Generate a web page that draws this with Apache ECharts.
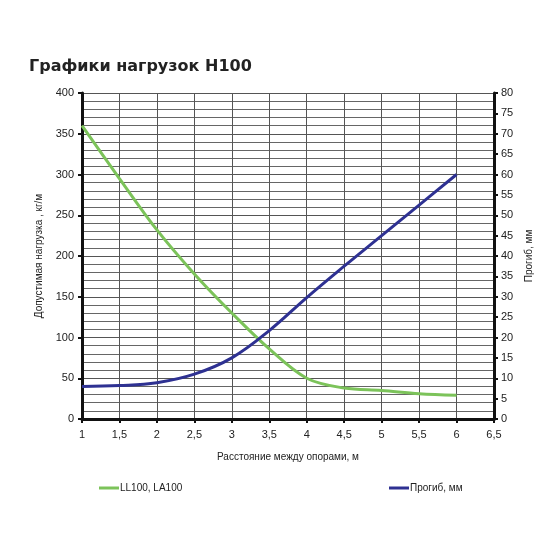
<!DOCTYPE html>
<html lang="ru">
<head>
    <meta charset="UTF-8">
    <title>Графики нагрузок H100</title>
    <script src="https://cdn.jsdelivr.net/npm/echarts@6/dist/echarts.min.js"></script>
    <style>
        * { margin: 0; padding: 0; box-sizing: border-box; }
        body { background: #fff; }
        #chart { width: 550px; height: 550px; }
    </style>
</head>
<body>
    <div id="chart"></div>
    <script>
        // данные
        const spans = [1, 1.5, 2, 2.5, 3, 3.5, 4, 4.5, 5, 5.5, 6];
        const loadLL100 = [360, 295, 232, 178, 130, 86, 50, 38, 35, 31, 29];
        const deflection = [8, 8.2, 8.9, 11, 15, 21.7, 29.8, 37.5, 45, 52.5, 60];

        const pairs = (ys) => spans.map((x, i) => [x, ys[i]]);
        const comma = (v) => String(v).replace('.', ',');

        const labelStyle = { color: '#222', fontSize: 11, fontFamily: 'Liberation Sans' };
        const thickAxis = { show: true, lineStyle: { color: '#111', width: 3 } };
        const ticks = { show: true, length: 4, lineStyle: { color: '#111', width: 2 } };

        const chart = echarts.init(document.getElementById('chart'));
        chart.setOption({
            animation: false,
            title: {
                text: 'Графики нагрузок H100',
                left: 24, top: 54,
                textStyle: { fontFamily: 'DejaVu Sans', fontWeight: 'bold', fontSize: 16, color: '#222' }
            },
            legend: [{
                data: ['LL100, LA100'],
                left: 94, top: 478,
                icon: 'rect', itemWidth: 20, itemHeight: 3,
                textStyle: { color: '#222', fontSize: 10, fontFamily: 'Liberation Sans', padding: [0, 0, 0, -4] }
            }, {
                data: ['Прогиб, мм'],
                left: 384, top: 478,
                icon: 'rect', itemWidth: 20, itemHeight: 3,
                textStyle: { color: '#222', fontSize: 10, fontFamily: 'Liberation Sans', padding: [0, 0, 0, -4] }
            }],
            grid: { left: 82, right: 56, top: 93, bottom: 131 },
            xAxis: {
                type: 'value', min: 1, max: 6.5, interval: 0.5,
                name: 'Расстояние между опорами, м',
                nameLocation: 'middle', nameGap: 33,
                nameTextStyle: { color: '#222', fontSize: 10, fontFamily: 'Liberation Sans' },
                axisLine: thickAxis, axisTick: ticks,
                axisLabel: Object.assign({ margin: 10, formatter: comma }, labelStyle),
                splitLine: { show: true, lineStyle: { color: '#555', width: 1 } }
            },
            yAxis: [{
                type: 'value', min: 0, max: 400, interval: 50,
                name: 'Допустимая нагрузка , кг/м',
                nameLocation: 'middle', nameGap: 36, nameRotate: 90,
                nameTextStyle: { color: '#222', fontSize: 10, fontFamily: 'Liberation Sans' },
                axisLine: thickAxis, axisTick: ticks,
                axisLabel: Object.assign({ margin: 8 }, labelStyle),
                splitLine: { show: true, lineStyle: { color: '#555', width: 1 } },
                minorTick: { show: false, splitNumber: 5 },
                minorSplitLine: { show: true, lineStyle: { color: '#666', width: 1 } }
            }, {
                type: 'value', min: 0, max: 80, interval: 5,
                name: 'Прогиб, мм',
                nameLocation: 'middle', nameGap: 28, nameRotate: 90,
                nameTextStyle: { color: '#222', fontSize: 10, fontFamily: 'Liberation Sans' },
                axisLine: thickAxis, axisTick: ticks,
                axisLabel: Object.assign({ margin: 7 }, labelStyle),
                splitLine: { show: false }
            }],
            series: [{
                name: 'LL100, LA100',
                type: 'line', yAxisIndex: 0,
                data: pairs(loadLL100),
                smooth: 0.35,
                showSymbol: false,
                lineStyle: { color: '#7cc35a', width: 3 },
                itemStyle: { color: '#7cc35a' }
            }, {
                name: 'Прогиб, мм',
                type: 'line', yAxisIndex: 1,
                data: pairs(deflection),
                smooth: 0.4,
                showSymbol: false,
                lineStyle: { color: '#2e3192', width: 3 },
                itemStyle: { color: '#2e3192' }
            }]
        });
    </script>
</body>
</html>
